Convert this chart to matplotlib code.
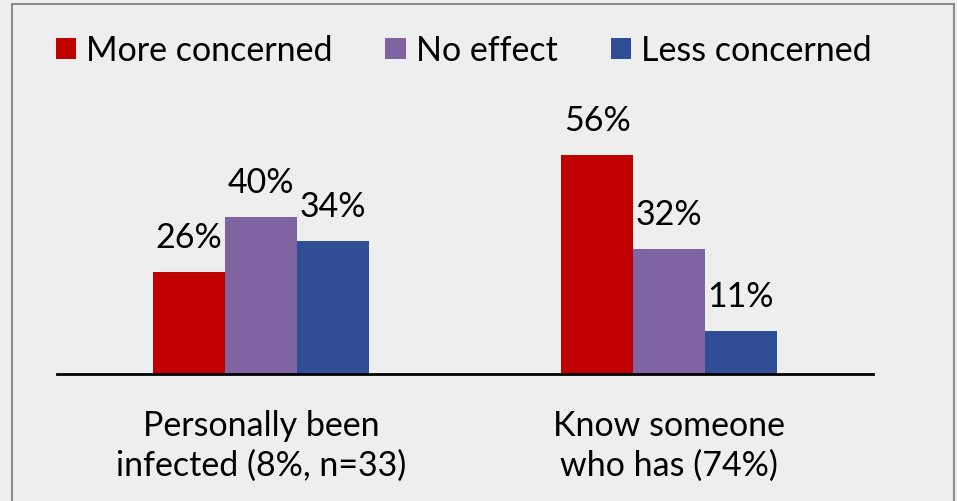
import matplotlib
matplotlib.use("Agg")
import matplotlib.pyplot as plt
import matplotlib.patches as mpatches
import numpy as np

categories = ["Personally been\ninfected (8%, n=33)", "Know someone\nwho has (74%)"]
series_names = ["More concerned", "No effect", "Less concerned"]
more_concerned = [26, 56]
no_effect = [40, 32]
less_concerned = [34, 11]
colors = ["#C00000", "#8064A2", "#2F4E96"]

plt.rcParams['font.family'] = ['Lato', 'DejaVu Sans']

W, H = 957, 501
fig = plt.figure(figsize=(W / 100, H / 100), dpi=100)
fig.patch.set_facecolor("#EEEEEE")

# outer frame
fig.patches.append(mpatches.Rectangle((12 / W, -0.05), (954 - 12) / W, 1.05 - 4 / H,
                                      transform=fig.transFigure, fill=False,
                                      edgecolor="#8C8C8C", linewidth=1.5))

ax = fig.add_axes([57 / W, (H - 374) / H, (873 - 57) / W, (374 - 100) / H])
ax.set_facecolor("none")

x = np.arange(len(categories))
bw = 0.176
series = [more_concerned, no_effect, less_concerned]
handles = []
for i, (vals, c, name) in enumerate(zip(series, colors, series_names)):
    bars = ax.bar(x + (i - 1) * bw, vals, width=bw, color=c, label=name)
    handles.append(bars)
    for b, v in zip(bars, vals):
        ax.text(b.get_x() + b.get_width() / 2, v + 4.6, f"{v}%",
                ha="center", va="bottom", fontsize=24.5)

ax.set_xlim(-0.5, 1.5)
ax.set_ylim(0, 70)
for s in ["top", "left", "right"]:
    ax.spines[s].set_visible(False)
ax.spines["bottom"].set_linewidth(2)
ax.spines["bottom"].set_color("black")
ax.set_yticks([])
ax.set_xticks(x)
ax.set_xticklabels(categories, fontsize=24.5, linespacing=1.3)
ax.tick_params(axis="x", length=0, pad=26)

fig.legend(handles=handles, labels=series_names, loc="upper left",
           bbox_to_anchor=(42 / W, 1 - 21 / H), ncol=3, frameon=False,
           fontsize=24.5, handlelength=0.6, handleheight=0.6,
           handletextpad=0.3, columnspacing=1.55, borderaxespad=0)

fig.savefig("out.png", dpi=100, facecolor=fig.get_facecolor())
